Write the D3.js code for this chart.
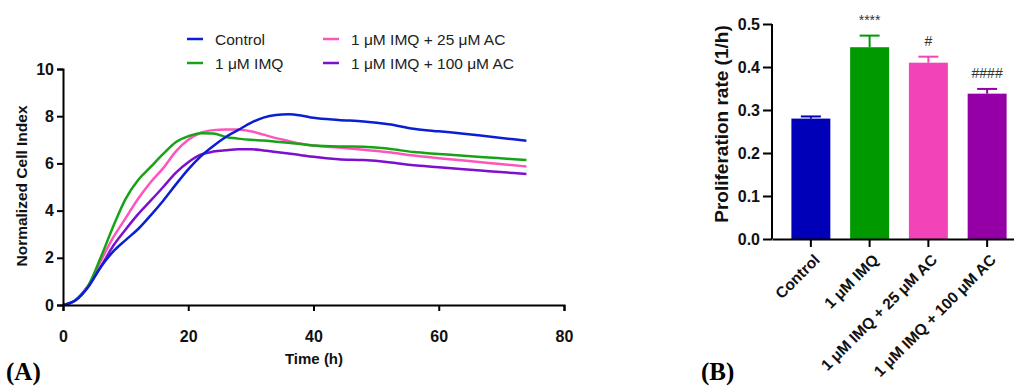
<!DOCTYPE html>
<html lang="en">
<head>
  <meta charset="UTF-8">
  <title>Cell proliferation</title>
  <script src="https://d3js.org/d3.v7.min.js"></script>
  <style>
    body { margin: 0; background: #fff; }
    svg { display: block; font-family: "Liberation Sans", Arial, sans-serif; }
  </style>
</head>
<body>
  <div id="chart"></div>

  <script>
    // ---- Panel A data: normalized cell index over time ----
    const hours = [0, 2, 4, 6, 8, 10, 12, 14, 16, 18, 20, 22, 24, 26, 28, 30, 32, 34, 36, 38, 40, 44, 48, 52, 56, 60, 64, 68, 72, 74];
    const controlIdx = [0, 0.2, 0.75, 1.6, 2.26, 2.75, 3.22, 3.8, 4.42, 5.1, 5.75, 6.3, 6.74, 7.12, 7.42, 7.72, 7.94, 8.05, 8.08, 8.03, 7.93, 7.84, 7.78, 7.66, 7.47, 7.36, 7.26, 7.14, 7.02, 6.96];
    const imqIdx = [0, 0.2, 0.8, 2.0, 3.32, 4.5, 5.3, 5.85, 6.4, 6.9, 7.15, 7.28, 7.27, 7.12, 7.05, 7.0, 6.97, 6.92, 6.87, 6.82, 6.76, 6.72, 6.71, 6.62, 6.48, 6.4, 6.32, 6.25, 6.18, 6.14];
    const ac25Idx = [0, 0.2, 0.8, 1.85, 2.85, 3.68, 4.5, 5.2, 5.8, 6.5, 7.0, 7.3, 7.41, 7.44, 7.44, 7.36, 7.22, 7.07, 6.95, 6.83, 6.76, 6.67, 6.58, 6.47, 6.33, 6.22, 6.12, 6.02, 5.92, 5.87];
    const ac100Idx = [0, 0.2, 0.8, 1.6, 2.5, 3.2, 3.85, 4.42, 5.0, 5.6, 6.05, 6.37, 6.5, 6.56, 6.6, 6.6, 6.55, 6.48, 6.42, 6.35, 6.28, 6.18, 6.14, 6.05, 5.92, 5.84, 5.75, 5.67, 5.59, 5.55];

    // ---- Panel B data: proliferation rate ----
    const groups = ['Control', '1 \u03BCM IMQ', '1 \u03BCM IMQ + 25 \u03BCM AC', '1 \u03BCM IMQ + 100 \u03BCM AC'];
    const rates = [0.28, 0.446, 0.41, 0.338];
    const rateErr = [0.005, 0.027, 0.014, 0.011];
    const marks = ['', '****', '#', '####'];

    const lineColors = ['#0a1fd4', '#17a317', '#ff55bb', '#7d0fcf'];
    const barColors = ['#0000b8', '#009a00', '#f244b8', '#9400a6'];

    const width = 1014, height = 388;
    const svg = d3.select('#chart').append('svg')
      .attr('width', width)
      .attr('height', height);

    // ================= Panel A =================
    const x = d3.scaleLinear().domain([0, 80]).range([63, 564]);
    const y = d3.scaleLinear().domain([0, 10]).range([305, 69]);

    const series = [
      { name: 'Control', values: controlIdx, color: lineColors[0] },
      { name: '1 \u03BCM IMQ', values: imqIdx, color: lineColors[1] },
      { name: '1 \u03BCM IMQ + 25 \u03BCM AC', values: ac25Idx, color: lineColors[2] },
      { name: '1 \u03BCM IMQ + 100 \u03BCM AC', values: ac100Idx, color: lineColors[3] }
    ];

    const line = d3.line()
      .x((d, i) => x(hours[i]))
      .y(d => y(d))
      .curve(d3.curveMonotoneX);

    // draw order: purple, pink, green, blue on top
    [3, 2, 1, 0].forEach(k => {
      svg.append('path')
        .datum(series[k].values)
        .attr('fill', 'none')
        .attr('stroke', series[k].color)
        .attr('stroke-width', 2.5)
        .attr('d', line);
    });

    const xAxisA = svg.append('g')
      .attr('transform', `translate(0,${y(0)})`)
      .call(d3.axisBottom(x).tickValues([0, 20, 40, 60, 80]).tickSize(6).tickPadding(20));
    const yAxisA = svg.append('g')
      .attr('transform', `translate(${x(0)},0)`)
      .call(d3.axisLeft(y).tickValues([0, 2, 4, 6, 8, 10]).tickSize(6).tickPadding(3));

    [xAxisA, yAxisA].forEach(g => {
      g.select('.domain').attr('stroke', '#000').attr('stroke-width', 2);
      g.selectAll('.tick line').attr('stroke', '#000').attr('stroke-width', 2);
      g.selectAll('.tick text')
        .attr('fill', '#111')
        .style('font-size', '16px')
        .style('font-weight', 'bold')
        .style('font-family', '"Liberation Sans", Arial, sans-serif');
    });

    svg.append('text')
      .attr('transform', 'translate(27,186) rotate(-90)')
      .attr('text-anchor', 'middle')
      .style('font-size', '15.5px')
      .style('font-weight', 'bold')
      .attr('fill', '#111')
      .text('Normalized Cell Index');

    svg.append('text')
      .attr('x', 314)
      .attr('y', 364)
      .attr('text-anchor', 'middle')
      .style('font-size', '15px')
      .style('font-weight', 'bold')
      .attr('fill', '#111')
      .text('Time (h)');

    // legend
    const legendPos = [[187, 39], [187, 63], [323, 39], [323, 63]];
    series.forEach((s, i) => {
      const [lx, ly] = legendPos[i];
      svg.append('line')
        .attr('x1', lx).attr('x2', lx + 16)
        .attr('y1', ly).attr('y2', ly)
        .attr('stroke', s.color)
        .attr('stroke-width', 2.5);
      svg.append('text')
        .attr('x', lx + 28)
        .attr('y', ly + 5.5)
        .style('font-size', '15.5px')
        .attr('fill', '#222')
        .text(s.name);
    });

    // ================= Panel B =================
    const xb = d3.scaleBand()
      .domain(groups)
      .range([772, 1026])
      .paddingInner(0.337)
      .paddingOuter(0.33);
    const yb = d3.scaleLinear().domain([0, 0.5]).range([239, 24]);

    svg.selectAll('rect.bar')
      .data(groups)
      .join('rect')
      .attr('class', 'bar')
      .attr('x', d => xb(d))
      .attr('y', (d, i) => yb(rates[i]))
      .attr('width', xb.bandwidth())
      .attr('height', (d, i) => yb(0) - yb(rates[i]))
      .attr('fill', (d, i) => barColors[i]);

    // error bars (upper only) and significance marks
    groups.forEach((g, i) => {
      const cx = xb(g) + xb.bandwidth() / 2;
      const top = yb(rates[i] + rateErr[i]);
      svg.append('line')
        .attr('x1', cx).attr('x2', cx)
        .attr('y1', yb(rates[i])).attr('y2', top)
        .attr('stroke', barColors[i]).attr('stroke-width', 2);
      svg.append('line')
        .attr('x1', cx - 10).attr('x2', cx + 10)
        .attr('y1', top).attr('y2', top)
        .attr('stroke', barColors[i]).attr('stroke-width', 2);
      if (marks[i]) {
        svg.append('text')
          .attr('x', cx)
          .attr('y', top - 11)
          .attr('text-anchor', 'middle')
          .style('font-size', '14px')
          .attr('fill', '#333')
          .text(marks[i]);
      }
    });

    const yAxisB = svg.append('g')
      .attr('transform', 'translate(772,0)')
      .call(d3.axisLeft(yb).tickValues([0, 0.1, 0.2, 0.3, 0.4, 0.5]).tickFormat(d3.format('.1f')).tickSize(9).tickPadding(3));
    const xAxisB = svg.append('g')
      .attr('transform', `translate(0,${yb(0)})`)
      .call(d3.axisBottom(xb).tickSize(8).tickSizeOuter(0));

    [xAxisB, yAxisB].forEach(g => {
      g.select('.domain').attr('stroke', '#000').attr('stroke-width', 2);
      g.selectAll('.tick line').attr('stroke', '#000').attr('stroke-width', 2);
      g.selectAll('.tick text')
        .attr('fill', '#111')
        .style('font-size', '16px')
        .style('font-weight', 'bold')
        .style('font-family', '"Liberation Sans", Arial, sans-serif');
    });
    yAxisB.select('.domain').attr('d', 'M0,24V239');

    xAxisB.selectAll('.tick text')
      .style('font-size', '15.5px')
      .attr('text-anchor', 'end')
      .attr('x', 0)
      .attr('y', 0)
      .attr('dy', '0.35em')
      .attr('transform', 'translate(6,18) rotate(-45)');

    svg.append('text')
      .attr('transform', 'translate(728,124) rotate(-90)')
      .attr('text-anchor', 'middle')
      .style('font-size', '19px')
      .style('font-weight', 'bold')
      .attr('fill', '#111')
      .text('Proliferation rate (1/h)');

    // panel letters
    svg.append('text')
      .attr('x', 6).attr('y', 380)
      .style('font-family', '"Liberation Serif", "Times New Roman", serif')
      .style('font-size', '25px')
      .style('font-weight', 'bold')
      .text('(A)');
    svg.append('text')
      .attr('x', 701).attr('y', 380)
      .style('font-family', '"Liberation Serif", "Times New Roman", serif')
      .style('font-size', '25px')
      .style('font-weight', 'bold')
      .text('(B)');
  </script>
</body>
</html>
